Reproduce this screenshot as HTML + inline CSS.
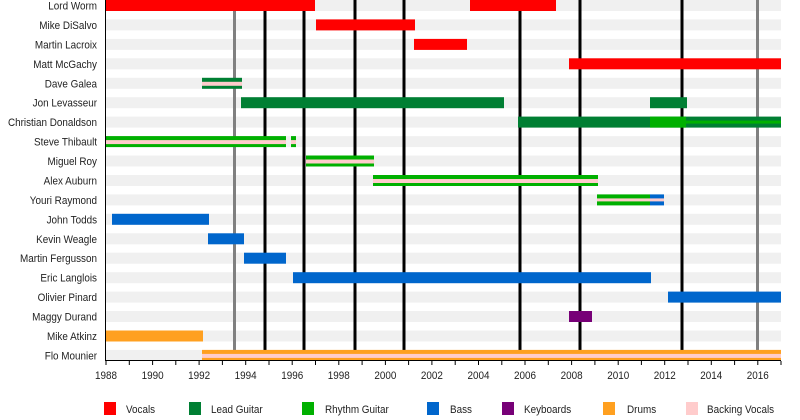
<!DOCTYPE html>
<html><head><meta charset="utf-8"><style>
html,body{margin:0;padding:0;background:#fff;}
svg{display:block;font-family:"Liberation Sans",sans-serif;}
</style></head><body>
<svg width="800" height="420" xmlns="http://www.w3.org/2000/svg">
<g fill="#f0f0f0">
<rect x="106" y="0" width="675" height="11"/><rect x="106" y="19.4" width="675" height="11"/><rect x="106" y="38.9" width="675" height="11"/><rect x="106" y="58.3" width="675" height="11"/><rect x="106" y="77.8" width="675" height="11"/><rect x="106" y="97.2" width="675" height="11"/><rect x="106" y="116.6" width="675" height="11"/><rect x="106" y="136.1" width="675" height="11"/><rect x="106" y="155.5" width="675" height="11"/><rect x="106" y="175" width="675" height="11"/><rect x="106" y="194.4" width="675" height="11"/><rect x="106" y="213.8" width="675" height="11"/><rect x="106" y="233.3" width="675" height="11"/><rect x="106" y="252.7" width="675" height="11"/><rect x="106" y="272.2" width="675" height="11"/><rect x="106" y="291.6" width="675" height="11"/><rect x="106" y="311" width="675" height="11"/><rect x="106" y="330.5" width="675" height="11"/><rect x="106" y="349.9" width="675" height="11"/>
</g>
<g stroke-width="3">
<line x1="234.5" y1="0" x2="234.5" y2="360" stroke="#808080"/><line x1="757.5" y1="0" x2="757.5" y2="360" stroke="#808080"/>
<g stroke="#000"><line x1="265" y1="0" x2="265" y2="360"/><line x1="304" y1="0" x2="304" y2="360"/><line x1="355" y1="0" x2="355" y2="360"/><line x1="404" y1="0" x2="404" y2="360"/><line x1="520" y1="0" x2="520" y2="360"/><line x1="580" y1="0" x2="580" y2="360"/><line x1="682" y1="0" x2="682" y2="360"/></g>
</g>
<g fill="#ff0000">
<rect x="106" y="0" width="209" height="11"/><rect x="470" y="0" width="86" height="11"/>
<rect x="316" y="19.4" width="99" height="11"/><rect x="414" y="38.9" width="53" height="11"/><rect x="569" y="58.3" width="212" height="11"/>
</g>
<rect x="202" y="77.8" width="40" height="11" fill="#007f33"/><rect x="202" y="81.8" width="40" height="4" fill="#ffcccc"/>
<rect x="241" y="97.2" width="263" height="11" fill="#007f33"/><rect x="650" y="97.2" width="37" height="11" fill="#007f33"/>
<rect x="518" y="116.6" width="263" height="11" fill="#007f33"/><rect x="650" y="116.6" width="36" height="11" fill="#00b000"/><rect x="686" y="120.6" width="95" height="3" fill="#00b000"/>
<g fill="#00b000"><rect x="106" y="136.1" width="180" height="11"/><rect x="291" y="136.1" width="5" height="11"/><rect x="306" y="155.5" width="68" height="11"/><rect x="373" y="175" width="225" height="11"/><rect x="597" y="194.4" width="53" height="11"/></g>
<rect x="650" y="194.4" width="14" height="11" fill="#0066cc"/>
<g fill="#ffcccc"><rect x="106" y="140.1" width="180" height="4"/><rect x="291" y="140.1" width="5" height="4"/><rect x="306" y="159.5" width="68" height="4"/><rect x="373" y="179" width="225" height="4"/><rect x="597" y="198.4" width="67" height="3"/></g>
<g fill="#0066cc"><rect x="112" y="213.8" width="97" height="11"/><rect x="208" y="233.3" width="36" height="11"/><rect x="244" y="252.7" width="42" height="11"/><rect x="293" y="272.2" width="358" height="11"/><rect x="668" y="291.6" width="113" height="11"/></g>
<rect x="569" y="311" width="23" height="11" fill="#770077"/>
<rect x="106" y="330.5" width="97" height="11" fill="#ffa020"/>
<rect x="202" y="349.9" width="579" height="11" fill="#ffa020"/><rect x="202" y="353.9" width="579" height="4" fill="#ffcccc"/>
<g font-size="11" fill="#222" text-anchor="end" transform="scale(0.9,1)">
<text x="107.8" y="9.5">Lord Worm</text><text x="107.8" y="29">Mike DiSalvo</text><text x="107.8" y="48.4">Martin Lacroix</text><text x="107.8" y="67.8">Matt McGachy</text><text x="107.8" y="87.3">Dave Galea</text><text x="107.8" y="106.7">Jon Levasseur</text><text x="107.8" y="126.1">Christian Donaldson</text><text x="107.8" y="145.6">Steve Thibault</text><text x="107.8" y="165">Miguel Roy</text><text x="107.8" y="184.5">Alex Auburn</text><text x="107.8" y="203.9">Youri Raymond</text><text x="107.8" y="223.3">John Todds</text><text x="107.8" y="242.8">Kevin Weagle</text><text x="107.8" y="262.2">Martin Fergusson</text><text x="107.8" y="281.7">Eric Langlois</text><text x="107.8" y="301.1">Olivier Pinard</text><text x="107.8" y="320.5">Maggy Durand</text><text x="107.8" y="340">Mike Atkinz</text><text x="107.8" y="359.4">Flo Mounier</text>
</g>
<g stroke="#000" stroke-width="1">
<line x1="105.5" y1="0" x2="105.5" y2="361"/><line x1="105" y1="360.5" x2="781" y2="360.5"/>
<path d="M106 361v4M129.3 361v4M152.6 361v4M175.8 361v4M199.1 361v4M222.4 361v4M245.7 361v4M269 361v4M292.2 361v4M315.5 361v4M338.8 361v4M362.1 361v4M385.4 361v4M408.6 361v4M431.9 361v4M455.2 361v4M478.5 361v4M501.8 361v4M525 361v4M548.3 361v4M571.6 361v4M594.9 361v4M618.2 361v4M641.4 361v4M664.7 361v4M688 361v4M711.3 361v4M734.6 361v4M757.8 361v4M781 361v4"/>
</g>
<g font-size="11" fill="#222" text-anchor="middle" transform="scale(0.9,1)">
<text x="117.8" y="379">1988</text><text x="169.6" y="379">1990</text><text x="221.2" y="379">1992</text><text x="273" y="379">1994</text><text x="324.7" y="379">1996</text><text x="376.4" y="379">1998</text><text x="428.2" y="379">2000</text><text x="479.9" y="379">2002</text><text x="531.7" y="379">2004</text><text x="583.3" y="379">2006</text><text x="635.1" y="379">2008</text><text x="686.9" y="379">2010</text><text x="738.6" y="379">2012</text><text x="790.3" y="379">2014</text><text x="842" y="379">2016</text>
</g>
<rect x="104" y="402" width="12" height="13" fill="#ff0000"/><rect x="189" y="402" width="12" height="13" fill="#007f33"/><rect x="302" y="402" width="12" height="13" fill="#00b000"/><rect x="427" y="402" width="12" height="13" fill="#0066cc"/><rect x="502" y="402" width="12" height="13" fill="#770077"/><rect x="603" y="402" width="12" height="13" fill="#ffa020"/><rect x="686" y="402" width="12" height="13" fill="#ffcccc"/>
<g font-size="11" fill="#222" transform="scale(0.9,1)">
<text x="140" y="413">Vocals</text><text x="234.4" y="413">Lead Guitar</text><text x="361.1" y="413">Rhythm Guitar</text><text x="500" y="413">Bass</text><text x="582.2" y="413">Keyboards</text><text x="696.7" y="413">Drums</text><text x="785.6" y="413">Backing Vocals</text>
</g>
</svg>
</body></html>
